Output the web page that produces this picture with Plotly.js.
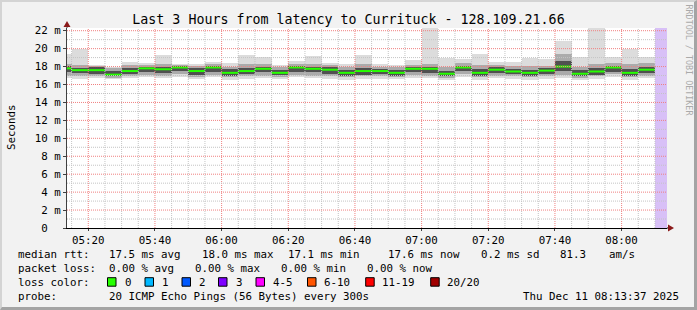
<!DOCTYPE html>
<html><head><meta charset="utf-8">
<script src="https://cdn.plot.ly/plotly-3.0.1.min.js"></script>
<style>
html,body{margin:0;padding:0;background:#f2f2f2;}
#wrap{position:relative;width:697px;height:310px;overflow:hidden;}
#chart{position:absolute;left:0;top:0;width:697px;height:310px;}
#frame{position:absolute;left:0;top:0;width:697px;height:310px;box-sizing:border-box;
 border-top:2px solid #d4d4d4;border-left:2px solid #d4d4d4;border-right:3px solid #a4a4a4;border-bottom:3px solid #a4a4a4;pointer-events:none;}
</style></head>
<body><div id="wrap"><div id="chart"></div><div id="frame"></div></div>
<script>
// ---------- data ----------
const DAY = '2025-12-11 ';
const barEnd = ['05:15','05:20','05:25','05:30','05:35','05:40','05:45','05:50','05:55',
  '06:00','06:05','06:10','06:15','06:20','06:25','06:30','06:35','06:40','06:45','06:50','06:55',
  '07:00','07:05','07:10','07:15','07:20','07:25','07:30','07:35','07:40','07:45','07:50','07:55',
  '08:00','08:05','08:10'];
const medianRtt = [17.8,17.6,17.6,17.1,17.5,17.8,17.7,17.9,17.5,17.9,17.3,17.5,17.75,17.3,17.9,17.75,17.65,17.3,
  17.5,17.5,17.3,17.75,17.75,17.2,17.9,17.3,17.65,17.45,17.3,17.55,18.0,17.2,17.45,17.9,17.3,17.65];
const pingMax = [19.35,20.0,18.2,18.0,18.5,18.4,19.3,18.3,18.25,18.55,18.4,19.25,19.05,18.15,18.65,19.15,18.45,18.25,
  19.3,18.25,18.2,18.7,23.5,18.9,18.85,19.35,18.55,18.5,18.9,18.85,20.9,19.1,23.5,19.1,20.0,19.1];
const pingHigh = [18.3,18.2,18.05,17.8,18.2,18.15,18.3,18.2,18.05,18.25,18.0,18.3,18.3,17.95,18.3,18.3,18.2,18.0,
  18.3,18.0,17.95,18.2,18.3,18.0,18.35,18.2,18.15,18.1,18.05,18.1,19.4,18.0,18.25,18.35,18.3,18.35];
const pingCoreHi = [18.05,17.85,17.9,17.5,17.85,17.95,17.95,18.1,17.85,18.05,17.7,17.85,18.0,17.6,18.05,17.95,17.9,17.65,
  17.85,17.75,17.6,17.95,18.0,17.55,18.1,17.7,17.9,17.75,17.65,17.8,18.6,17.6,17.8,18.1,17.75,17.95];
const pingCoreLo = [17.4,17.25,17.2,16.9,17.2,17.35,17.3,17.5,17.1,17.45,17.0,17.15,17.35,17.05,17.45,17.35,17.2,17.0,
  17.1,17.15,17.0,17.35,17.3,16.95,17.5,17.0,17.25,17.15,17.0,17.2,17.5,16.95,17.1,17.45,17.0,17.3];
const pingLow = [17.0,16.9,16.9,16.75,16.95,17.05,17.0,17.15,16.85,17.1,16.8,16.9,17.0,16.85,17.1,17.0,16.95,16.8,
  16.9,16.9,16.8,17.05,17.0,16.75,17.15,16.8,16.95,16.9,16.8,16.95,17.1,16.75,16.9,17.15,16.8,17.0];
const pingMin = [16.7,16.65,16.7,16.6,16.7,16.8,16.75,16.85,16.6,16.8,16.55,16.6,16.75,16.6,16.8,16.75,16.6,16.55,
  16.6,16.65,16.6,16.75,16.75,16.5,16.85,16.55,16.7,16.6,16.55,16.65,16.75,16.5,16.6,16.85,16.55,16.7];
const unknownStart = '08:10:00', graphStart = '05:13:37', graphEnd = '08:13:37';
const xTickLabels = ['05:20','05:40','06:00','06:20','06:40','07:00','07:20','07:40','08:00'];
const yTickVals = [0,2,4,6,8,10,12,14,16,18,20,22];
const yTickLabels = ['0\u00a0\u00a0','2 m','4 m','6 m','8 m','10 m','12 m','14 m','16 m','18 m','20 m','22 m'];
const lossLabels = ['0','1','2','3','4-5','6-10','11-19','20/20'];
const lossColors = ['#26ff00','#00b8ff','#0059ff','#7e00ff','#ff00ff','#ff5500','#ff0000','#a10000'];
const YTOP = 22.3;

// ---------- helpers ----------
const T = s => DAY + (s.length === 5 ? s + ':00' : s);
function minus5(hm){ const [h,m] = hm.split(':').map(Number); const t = h*60 + m - 5;
  return String(Math.floor(t/60)).padStart(2,'0') + ':' + String(t%60).padStart(2,'0'); }
const xEnd = barEnd.map(T);
const STEP = 300000;
function band(lo, hi, color){
  return {type:'bar', x:xEnd, base:lo, y:hi.map((v,i)=>v-lo[i]), width:STEP, offset:-STEP,
    marker:{color:color, line:{width:0}}, hoverinfo:'skip', showlegend:false};
}
const traces = [
  band(pingMin, pingMax, '#dcdcdc'),
  band(pingLow, pingHigh, '#ababab'),
  band(pingCoreLo, pingCoreHi, '#505050'),
];
// unknown period
const unkMs = (new Date('2025-12-11T'+graphEnd+'Z') - new Date('2025-12-11T'+unknownStart+'Z'));
traces.push({type:'bar', x:[T(graphEnd)], base:[0], y:[YTOP], width:unkMs, offset:-unkMs,
  marker:{color:'#d8c0f7', line:{width:0}}, hoverinfo:'skip', showlegend:false});
// median
const mx = [], my = [];
barEnd.forEach((e,i)=>{ mx.push(T(minus5(e)), T(e), null); my.push(medianRtt[i], medianRtt[i], null); });
traces.push({type:'scatter', mode:'lines', x:mx, y:my, line:{color:'#26ff00', width:2}, hoverinfo:'skip', showlegend:false});

// ---------- decorations ----------
const PL = 67, PW = 600, PB = 228, PH = 200;
const xp = px => (px - PL) / PW;
const yp = py => (PB - py) / PH;
const shapes = [];
// grid (drawn above data like rrdtool)
for (let i = 0; i < barEnd.length; i++) {
  const e = barEnd[i]; const mm = Number(e.split(':')[1]);
  const major = mm % 20 === 0;
  shapes.push({type:'line', xref:'x', yref:'paper', x0:T(e), x1:T(e), y0:0, y1:1, layer:'above',
    line:{color: major ? '#f08080' : '#c4c4c4', width:1, dash:'1px,1px'}});
}
for (let v = 1; v <= 22; v++) {
  const major = v % 2 === 0;
  shapes.push({type:'line', xref:'paper', yref:'y', x0:0, x1:1, y0:v, y1:v, layer:'above',
    line:{color: major ? '#f08080' : '#c4c4c4', width:1, dash:'1px,1px'}});
}
// axis extensions and arrows
shapes.push({type:'line', xref:'paper', yref:'paper', x0:0, x1:0, y0:1, y1:yp(23), line:{color:'#404040', width:1}, layer:'above'});
shapes.push({type:'line', xref:'paper', yref:'paper', x0:1, x1:xp(671), y0:0, y1:0, line:{color:'#000', width:1}, layer:'above'});
shapes.push({type:'path', xref:'paper', yref:'paper', layer:'above',
  path:`M ${xp(63.5)},${yp(27)} L ${xp(70.5)},${yp(27)} L ${xp(67)},${yp(21)} Z`, fillcolor:'#8b1a1a', line:{width:0}});
shapes.push({type:'path', xref:'paper', yref:'paper', layer:'above',
  path:`M ${xp(668)},${yp(224.5)} L ${xp(668)},${yp(231.5)} L ${xp(674)},${yp(228)} Z`, fillcolor:'#8b1a1a', line:{width:0}});

const FONT = 'DejaVu Sans Mono';
const FS = 10.8;
const ann = [];
function txt(s, px, py, o){ ann.push(Object.assign({text:s, xref:'paper', yref:'paper', x:xp(px), y:yp(py),
  xanchor:'left', yanchor:'middle', showarrow:false, font:{family:FONT, size:FS, color:'#000'}}, o||{})); }
// legend lines
const L1 = 254.5, L2 = 268.5, L3 = 282, L4 = 296;
txt('median rtt:', 16, L1); txt('17.5 ms avg', 107, L1); txt('18.0 ms max', 200, L1);
txt('17.1 ms min', 286, L1); txt('17.6 ms now', 386, L1); txt('0.2 ms sd', 479, L1);
txt('81.3', 558, L1); txt('am/s', 607, L1);
txt('packet loss:', 16, L2); txt('0.00 % avg', 107, L2); txt('0.00 % max', 193, L2);
txt('0.00 % min', 279, L2); txt('0.00 % now', 365, L2);
txt('loss color:', 16, L3);
const boxX = [107.5, 145, 182, 218.5, 256, 307.5, 365.7, 430.7];
const labX = [122.7, 160, 197.3, 234, 271, 322.3, 380.3, 445.3];
lossLabels.forEach((l,i)=>{
  shapes.push({type:'rect', xref:'paper', yref:'paper', x0:xp(boxX[i]), x1:xp(boxX[i]+8.5),
    y0:yp(286.2), y1:yp(277.7), fillcolor:lossColors[i], line:{color:'#000', width:1}, layer:'above'});
  txt(l, labX[i], L3);
});
txt('probe:', 16, L4); txt('20 ICMP Echo Pings (56 Bytes) every 300s', 107, L4);
txt('Thu Dec 11 08:13:37 2025', 680.5, L4, {xanchor:'right'});
txt('Seconds', 11, 127, {xanchor:'center', textangle:-90});
txt('RRDTOOL / TOBI OETIKER', 688.5, 60, {xanchor:'center', textangle:90, font:{family:FONT, size:8.4, color:'#aaaaaa'}});

const layout = {
  width:697, height:310,
  margin:{l:PL, r:697-PL-PW, t:PB-PH, b:310-PB, pad:0},
  paper_bgcolor:'rgba(0,0,0,0)', plot_bgcolor:'#ffffff',
  barmode:'overlay', bargap:0, showlegend:false,
  font:{family:FONT, size:FS, color:'#000'},
  title:{text:'Last 3 Hours from latency to Currituck - 128.109.21.66',
    font:{family:FONT, size:13.3, color:'#000'}, x:0.5, xref:'container', xanchor:'center',
    y:1-19.5/310, yref:'container', yanchor:'middle'},
  xaxis:{type:'date', range:[T(graphStart), T(graphEnd)], tickvals:xTickLabels.map(T), ticktext:xTickLabels,
    showgrid:false, zeroline:false, showline:true, linecolor:'#000', linewidth:1,
    ticks:'outside', ticklen:2, tickcolor:'#404040', tickfont:{family:FONT, size:FS, color:'#000'}, fixedrange:true},
  yaxis:{range:[0, YTOP], tickvals:yTickVals, ticktext:yTickLabels, showgrid:false, zeroline:false,
    showline:true, linecolor:'#404040', linewidth:1, ticks:'outside', ticklen:3, tickcolor:'#404040',
    tickfont:{family:FONT, size:FS, color:'#000'}, fixedrange:true},
  shapes:shapes, annotations:ann
};
Plotly.newPlot('chart', traces, layout, {staticPlot:true, displayModeBar:false});
</script></body></html>
